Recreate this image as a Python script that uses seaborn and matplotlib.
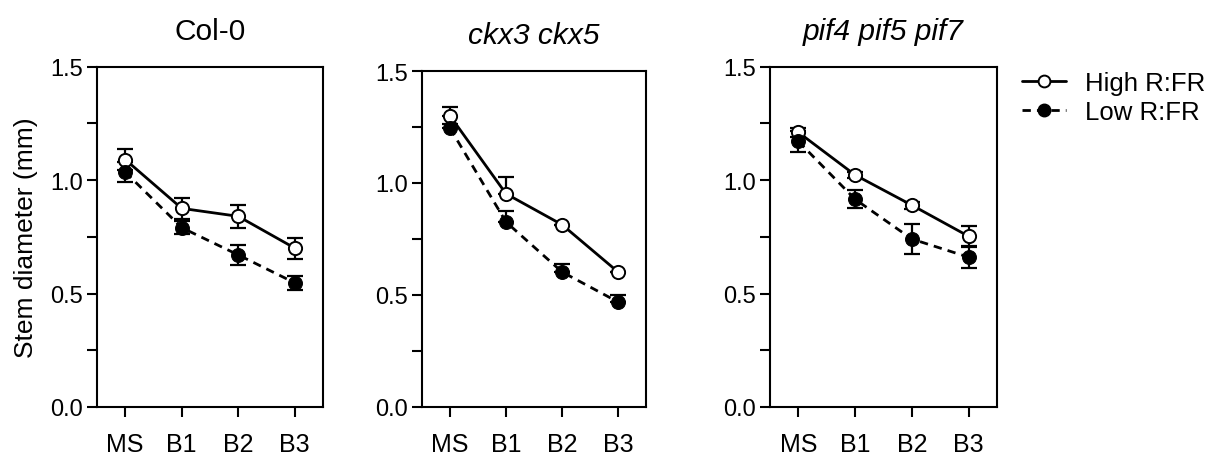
import numpy as np
import pandas as pd
import matplotlib
matplotlib.use("Agg")
import matplotlib.pyplot as plt
import seaborn as sns
from matplotlib.lines import Line2D

# ---------------- data ----------------
categories = ["MS", "B1", "B2", "B3"]
titles = ["Col-0", "ckx3 ckx5", "pif4 pif5 pif7"]
title_styles = ["normal", "italic", "italic"]
series_names = ["High R:FR", "Low R:FR"]

col0_high = [1.09, 0.875, 0.84, 0.70]
col0_high_err_lo = [0.045, 0.045, 0.05, 0.046]
col0_high_err_hi = [0.045, 0.045, 0.05, 0.046]
col0_low = [1.035, 0.79, 0.67, 0.547]
col0_low_err_lo = [0.045, 0.03, 0.044, 0.03]
col0_low_err_hi = [0.045, 0.03, 0.044, 0.03]

ckx_high = [1.30, 0.952, 0.814, 0.603]
ckx_high_err_lo = [0.0, 0.0, 0.0, 0.0]
ckx_high_err_hi = [0.04, 0.075, 0.0, 0.0]
ckx_low = [1.245, 0.826, 0.603, 0.469]
ckx_low_err_lo = [0.0, 0.0, 0.0, 0.0]
ckx_low_err_hi = [0.02, 0.05, 0.035, 0.03]

pif_high = [1.21, 1.022, 0.889, 0.752]
pif_high_err_lo = [0.02, 0.015, 0.015, 0.047]
pif_high_err_hi = [0.02, 0.015, 0.015, 0.047]
pif_low = [1.17, 0.915, 0.74, 0.66]
pif_low_err_lo = [0.048, 0.04, 0.066, 0.048]
pif_low_err_hi = [0.048, 0.04, 0.066, 0.048]

ytick_vals = [0.0, 0.25, 0.5, 0.75, 1.0, 1.25, 1.5]
ytick_labels = ["0.0", "", "0.5", "", "1.0", "", "1.5"]

panels = [
    (col0_high, col0_high_err_lo, col0_high_err_hi, col0_low, col0_low_err_lo, col0_low_err_hi),
    (ckx_high, ckx_high_err_lo, ckx_high_err_hi, ckx_low, ckx_low_err_lo, ckx_low_err_hi),
    (pif_high, pif_high_err_lo, pif_high_err_hi, pif_low, pif_low_err_lo, pif_low_err_hi),
]

# ---------------- style ----------------
sns.set_theme(style="ticks")
plt.rcParams["font.family"] = ["Liberation Sans", "DejaVu Sans"]
plt.rcParams["axes.linewidth"] = 1.5
plt.rcParams["text.color"] = "black"
plt.rcParams["axes.labelcolor"] = "black"
plt.rcParams["xtick.color"] = "black"
plt.rcParams["ytick.color"] = "black"
plt.rcParams["axes.edgecolor"] = "black"

W, H = 1225, 456
fig = plt.figure(figsize=(W / 100, H / 100), dpi=100)

boxes = [(97, 323, 67.5, 408), (422, 646, 72, 408), (770, 997, 67.5, 408)]

lw = 2.0
dash_style = (0, (3.0, 2.2))
ms = 9.5

for i, (box, data) in enumerate(zip(boxes, panels)):
    l, r, t, b = box
    ax = fig.add_axes([l / W, (H - b) / H, (r - l) / W, (b - t) / H])
    hi, hi_lo, hi_hi, lo, lo_lo, lo_hi = data
    x = np.arange(len(categories))
    df = pd.DataFrame({"pos": x, "high": hi, "low": lo})

    # error bars (behind markers)
    ax.errorbar(x, hi, yerr=[hi_lo, hi_hi], fmt="none", ecolor="black",
                elinewidth=1.6, capsize=5.5, capthick=1.6, zorder=2)
    ax.errorbar(x, lo, yerr=[lo_lo, lo_hi], fmt="none", ecolor="black",
                elinewidth=1.6, capsize=5.5, capthick=1.6, zorder=2)

    sns.lineplot(data=df, x="pos", y="high", ax=ax, color="black", linewidth=lw,
                 marker="o", markersize=ms, markerfacecolor="white",
                 markeredgecolor="black", markeredgewidth=1.4, zorder=3)
    sns.lineplot(data=df, x="pos", y="low", ax=ax, color="black", linewidth=lw,
                 linestyle=dash_style, marker="o", markersize=ms + 0.5,
                 markerfacecolor="black", markeredgecolor="black", zorder=4)

    ax.set_xlim(-0.5, 3.5)
    ax.set_ylim(0, 1.5)
    ax.set_xticks(x)
    ax.set_xticklabels(categories, fontsize=18)
    ax.set_yticks(ytick_vals)
    ax.set_yticklabels(ytick_labels, fontsize=17)
    ax.tick_params(axis="x", length=7, width=1.5, pad=11, colors="black")
    ax.tick_params(axis="y", length=7, width=1.5, pad=3, colors="black")
    for s in ax.spines.values():
        s.set_visible(True)
        s.set_linewidth(1.5)
        s.set_color("black")
    ax.set_xlabel("")
    if i == 0:
        ax.set_ylabel("Stem diameter (mm)", fontsize=19, labelpad=9, color="black")
    else:
        ax.set_ylabel("")
    ax.set_title(titles[i], fontsize=21.5, style=title_styles[i], pad=20, color="black")

handles = [
    Line2D([], [], color="black", linewidth=lw, marker="o", markersize=ms - 1,
           markerfacecolor="white", markeredgecolor="black", markeredgewidth=1.4),
    Line2D([], [], color="black", linewidth=lw, linestyle=dash_style, marker="o",
           markersize=ms - 0.5, markerfacecolor="black", markeredgecolor="black"),
]
leg = fig.legend(handles, series_names, loc="upper left",
                 bbox_to_anchor=(1022 / W, 1 - 72 / H), frameon=False, fontsize=18.5,
                 handlelength=1.7, handletextpad=0.75, labelspacing=0.2,
                 borderpad=0, borderaxespad=0)
for txt in leg.get_texts():
    txt.set_color("black")

fig.savefig("out.png", dpi=100)
